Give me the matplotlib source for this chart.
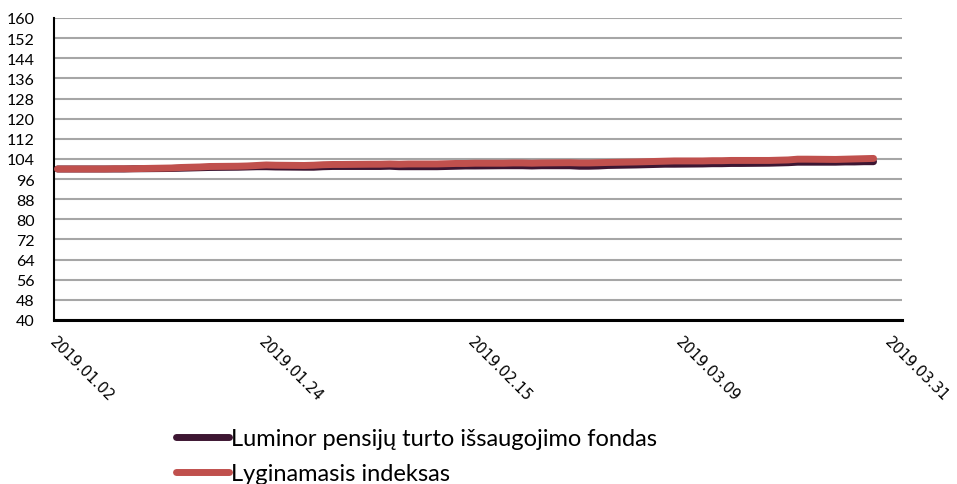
import matplotlib
matplotlib.use("Agg")
import matplotlib.pyplot as plt
import pandas as pd

series_fund_name = "Luminor pensijų turto išsaugojimo fondas"
series_index_name = "Lyginamasis indeksas"

dates = pd.bdate_range("2019-01-02", "2019-03-29")

fund_values = [
    100.0, 100.0, 100.0,
    100.0, 100.0, 100.0, 100.1, 100.1,
    100.2, 100.3, 100.4, 100.5, 100.6,
    100.7, 100.8, 100.9, 100.9, 100.8,
    100.7, 100.7, 100.9, 101.0,
    101.0,
    101.0, 101.0, 101.1, 100.9, 100.9,
    100.9, 101.0, 101.1, 101.2, 101.2,
    101.3, 101.3, 101.3, 101.2, 101.3,
    101.3, 101.1, 101.1, 101.2,
    101.4,
    101.6, 101.7, 101.8, 101.9, 101.9,
    102.0, 102.1, 102.1, 102.2, 102.2,
    102.3, 102.4, 102.5, 102.7, 102.7,
    102.7, 102.8, 102.8, 102.9, 102.9,
]

index_values = [
    100.0, 100.0, 100.0,
    100.0, 100.1, 100.1, 100.1, 100.2,
    100.4, 100.6, 100.7, 100.8, 101.0,
    101.1, 101.2, 101.4, 101.6, 101.5,
    101.4, 101.5, 101.7, 101.8,
    101.8,
    101.9, 101.9, 102.0, 101.9, 102.0,
    102.0, 102.1, 102.2, 102.2, 102.3,
    102.3, 102.4, 102.4, 102.3, 102.4,
    102.5, 102.4, 102.4, 102.5,
    102.6,
    102.8, 102.9, 103.0, 103.1, 103.2,
    103.2, 103.3, 103.3, 103.4, 103.4,
    103.4, 103.5, 103.6, 103.9, 103.9,
    103.8, 103.9, 104.0, 104.1, 104.2,
]

x_tick_dates = ["2019-01-02", "2019-01-24", "2019-02-15", "2019-03-09", "2019-03-31"]
x_tick_labels = ["2019.01.02", "2019.01.24", "2019.02.15", "2019.03.09", "2019.03.31"]
y_ticks = list(range(40, 161, 8))

fig = plt.figure(figsize=(9.57, 4.85), dpi=100)
ax = fig.add_axes([54 / 957, 1 - 321 / 485, (902 - 54) / 957, (321 - 19) / 485])

ax.plot(dates, fund_values, color="#3D1632", lw=5.0, solid_capstyle="round",
        label=series_fund_name, zorder=3)
ax.plot(dates, index_values, color="#C0504D", lw=5.0, solid_capstyle="round",
        label=series_index_name, zorder=4)

ax.set_ylim(40, 160)
ax.set_yticks(y_ticks)
ax.set_xlim(pd.Timestamp("2019-01-01 15:00"), pd.Timestamp("2019-04-01"))
ax.set_xticks([pd.Timestamp(d) for d in x_tick_dates])
ax.set_xticklabels(x_tick_labels, rotation=-45, ha="left", va="top",
                   rotation_mode="anchor", fontsize=10.5, family="DejaVu Sans")
for lbl in ax.get_yticklabels():
    lbl.set_family("Lato")
    lbl.set_fontsize(11.5)

ax.grid(axis="y", color="#A6A6A6", lw=1.5, zorder=0)
ax.set_axisbelow(True)
ax.tick_params(axis="both", length=0)
ax.tick_params(axis="y", pad=14)
ax.tick_params(axis="x", pad=10)
for s in ["top", "right"]:
    ax.spines[s].set_visible(False)
ax.spines["left"].set_color("black")
ax.spines["left"].set_linewidth(1.5)
ax.spines["bottom"].set_color("black")
ax.spines["bottom"].set_linewidth(2.2)

fig.legend(loc="upper left", bbox_to_anchor=(176 / 957, 1 - 429 / 485),
           frameon=False, prop={"family": "Lato", "size": 17},
           handlelength=2.25, handletextpad=0.08, labelspacing=0.6,
           borderaxespad=0, borderpad=0)

fig.savefig("out.png", dpi=100)
